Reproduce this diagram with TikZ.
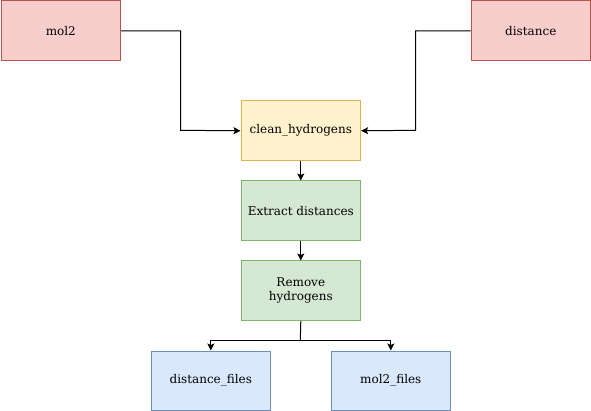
\documentclass[tikz,border=0pt]{standalone}
\usepackage{fontspec}
\setmainfont{DejaVu Serif}
\usetikzlibrary{arrows.meta}
\definecolor{redf}{HTML}{F8CECC}\definecolor{redd}{HTML}{B85450}
\definecolor{yelf}{HTML}{FFF2CC}\definecolor{yeld}{HTML}{D6B656}
\definecolor{grnf}{HTML}{D5E8D4}\definecolor{grnd}{HTML}{82B366}
\definecolor{bluf}{HTML}{DAE8FC}\definecolor{blud}{HTML}{6C8EBF}
\tikzset{
  box/.style={draw, line width=1pt, minimum width=119.6pt, minimum height=59.6pt, inner sep=0pt, anchor=north west, align=center, font=\fontsize{12}{14}\selectfont},
  redbox/.style={box, fill=redf, draw=redd},
  yelbox/.style={box, fill=yelf, draw=yeld},
  grnbox/.style={box, fill=grnf, draw=grnd},
  blubox/.style={box, fill=bluf, draw=blud},
  conn/.style={draw, line width=1pt, -{Stealth[length=7pt,width=7pt,inset=1.5pt]}},
  plain/.style={draw, line width=1pt}
}
\begin{document}
\begin{tikzpicture}[x=1pt,y=-1pt]
\useasboundingbox (0,0) rectangle (591,411);
\node[redbox] (mol2) at (0.5,0.5) {mol2};
\node[redbox] (dist) at (470.5,0.5) {distance};
\node[yelbox] (clean) at (240.5,100.5) {clean\_hydrogens};
\node[grnbox] (extract) at (240.5,180.5) {Extract distances};
\node[grnbox] (remove) at (240.5,260.5) {Remove\\hydrogens};
\node[blubox] (dfiles) at (150.5,350.5) {distance\_files};
\node[blubox] (mfiles) at (330.5,350.5) {mol2\_files};
\coordinate (split) at (300.3,340.5);
\draw[conn] (mol2.east) -| (180.5,130.3) -- (clean.west);
\draw[conn] (dist.west) -| (415.5,130.3) -- (clean.east);
\draw[conn] (clean) -- (extract);
\draw[conn] (extract) -- (remove);
\draw[plain] (remove.south) -- (split);
\draw[conn] (split) -| (dfiles.north);
\draw[conn] (split) -| (mfiles.north);
\end{tikzpicture}
\end{document}
